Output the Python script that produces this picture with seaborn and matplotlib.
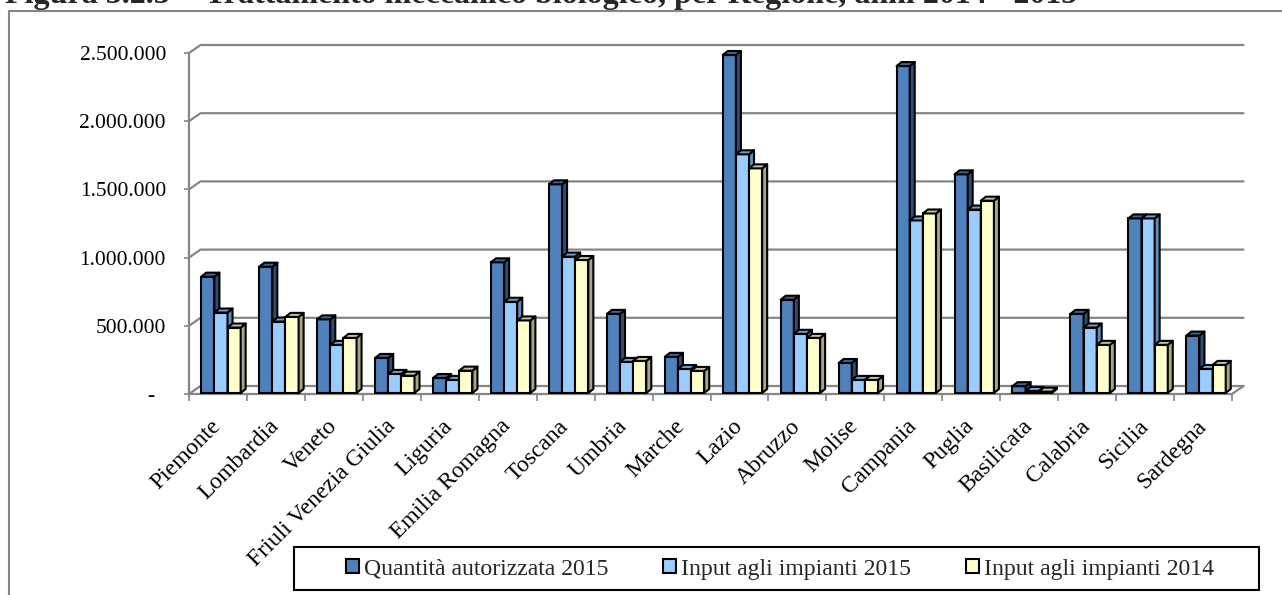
import matplotlib
matplotlib.use("Agg")
import matplotlib.pyplot as plt
from matplotlib.patches import Polygon, Rectangle
from matplotlib.lines import Line2D
from matplotlib.ticker import FixedLocator
import numpy as np
import pandas as pd
import seaborn as sns

regioni = ["Piemonte", "Lombardia", "Veneto", "Friuli Venezia Giulia", "Liguria",
           "Emilia Romagna", "Toscana", "Umbria", "Marche", "Lazio", "Abruzzo", "Molise",
           "Campania", "Puglia", "Basilicata", "Calabria", "Sicilia", "Sardegna"]
autorizzata_2015 = [853000, 926000, 540000, 257000, 110000, 958000, 1530000, 580000, 265000,
                    2478000, 684000, 220000, 2397000, 1603000, 50000, 580000, 1280000, 421000]
input_2015 = [590000, 524000, 353000, 140000, 96000, 669000, 1000000, 228000, 176000,
              1750000, 434000, 96000, 1265000, 1345000, 15000, 480000, 1280000, 176000]
input_2014 = [480000, 558000, 404000, 127000, 164000, 532000, 975000, 235000, 162000,
              1647000, 404000, 96000, 1316000, 1410000, 10000, 353000, 353000, 206000]
serie = ["Quantità autorizzata 2015", "Input agli impianti 2015", "Input agli impianti 2014"]
y_ticks = [0, 500000, 1000000, 1500000, 2000000, 2500000]
y_labels = ["-  ", "500.000", "1.000.000", "1.500.000", "2.000.000", "2.500.000"]

colori = ["#4F81BD", "#99CCFF", "#FFFFCC"]
colori_lato = ["#2C4D75", "#5F8FBF", "#A6A680"]
colori_top = ["#3A6595", "#6FA0D0", "#C4C49A"]
GRIGIO = "#868686"

W, H = 1282, 595
sns.set_theme(style="white")
plt.rcParams["font.family"] = ["Liberation Serif", "DejaVu Serif"]

df = pd.DataFrame({"regione": regioni * 3,
                   "serie": np.repeat(serie, len(regioni)),
                   "valore": autorizzata_2015 + input_2015 + input_2014})

fig = plt.figure(figsize=(W / 100, H / 100), dpi=100)
ax = fig.add_axes([189 / W, 1 - 394 / H, (1232 - 189) / W, (394 - 53) / H])
ax.patch.set_alpha(0)

sns.barplot(data=df, x="regione", y="valore", hue="serie", palette=colori, width=0.68,
            gap=0, edgecolor="black", linewidth=1.5, saturation=1, ax=ax, legend=True)
ax.set_xlim(-0.5, 17.5)
ax.set_ylim(0, 2500000)
ax.set_xlabel("")
ax.set_ylabel("")

# unita' dati per pixel
px_x = 18 / (1232 - 189)
px_y = 2500000 / (394 - 53)

# griglia sulla parete di fondo
wall_x, wall_y = 11.5 * px_x, 8 * px_y
for v in y_ticks:
    ax.add_line(Line2D([-0.5, -0.5 + wall_x, 17.5 + wall_x], [v, v + wall_y, v + wall_y],
                       color=GRIGIO, lw=1.6, clip_on=False, zorder=1))
ax.add_line(Line2D([17.5, 17.5 + wall_x], [0, wall_y], color=GRIGIO, lw=1.6, clip_on=False, zorder=1))

# finto 3D: lato e coperchio da ogni barra
dx, dy = 5 * px_x, 4 * px_y
for i, cont in enumerate(ax.containers):
    for p in cont:
        p.set_x(p.get_x() + 3 * px_x)
        p.set_y(1 * px_y)
        p.set_zorder(3 + i)
        x0, x1 = p.get_x(), p.get_x() + p.get_width()
        y0, y1 = p.get_y(), p.get_y() + p.get_height()
        ax.add_patch(Polygon([(x1, y0), (x1 + dx, y0 + dy), (x1 + dx, y1 + dy), (x1, y1)],
                             facecolor=colori_lato[i], edgecolor="black", lw=1.5,
                             joinstyle="round", clip_on=False, zorder=3 + i))
        ax.add_patch(Polygon([(x0, y1), (x0 + dx, y1 + dy), (x1 + dx, y1 + dy), (x1, y1)],
                             facecolor=colori_top[i], edgecolor="black", lw=1.5,
                             joinstyle="round", clip_on=False, zorder=3 + i))

sns.despine(ax=ax)
for s in ["left", "bottom"]:
    ax.spines[s].set_color(GRIGIO)
    ax.spines[s].set_linewidth(1.6)
    ax.spines[s].set_zorder(2)

ax.set_yticks(y_ticks)
ax.set_yticklabels(y_labels, fontsize=15.5, color="black")
ax.tick_params(axis="y", left=True, length=3.6, width=1.2, color=GRIGIO, pad=13)

ax.set_xticks(range(len(regioni)))
ax.set_xticklabels(regioni, fontsize=17, color="black", rotation=45, ha="right",
                   va="center", rotation_mode="anchor")
ax.xaxis.set_minor_locator(FixedLocator(np.arange(-0.5, 18)))
ax.tick_params(axis="x", which="major", bottom=False, pad=15)
ax.tick_params(axis="x", which="minor", bottom=True, length=5.2, width=1.2, color=GRIGIO)

# legenda in basso con riquadro nero
handles, labels = ax.get_legend_handles_labels()
for h in handles:
    h.set_linewidth(1.5)
ax.legend(handles, labels, ncol=3, frameon=False, loc="center", fontsize=17.15,
          bbox_to_anchor=(780 / W, 1 - 569 / H), bbox_transform=fig.transFigure,
          handlelength=0.55, handleheight=0.55, handletextpad=0.22, columnspacing=2.29,
          borderpad=0, borderaxespad=0)
fig.add_artist(Rectangle((294 / W, 1 - 590 / H), (1259 - 294) / W, 43 / H, transform=fig.transFigure,
                         facecolor="none", edgecolor="black", lw=1.5))

# cornice del grafico (tagliata in basso e a destra)
fig.add_artist(Line2D([9 / W, 9 / W, 1], [0, 1 - 10.5 / H, 1 - 10.5 / H], transform=fig.transFigure,
                      color=GRIGIO, lw=1.5))

# titolo, tagliato in alto come nell'originale
fig.text(5 / W, 1 - 3 / H, "Figura 3.2.3", fontsize=23, fontweight="bold", va="baseline")
fig.text(182 / W, 1 - 3 / H, "–", fontsize=23, fontweight="bold", va="baseline")
fig.text(205 / W, 1 - 3 / H, "Trattamento meccanico biologico, per Regione, anni 2014 - 2015",
         fontsize=23, fontweight="bold", va="baseline")

fig.savefig("out.png", dpi=100)
